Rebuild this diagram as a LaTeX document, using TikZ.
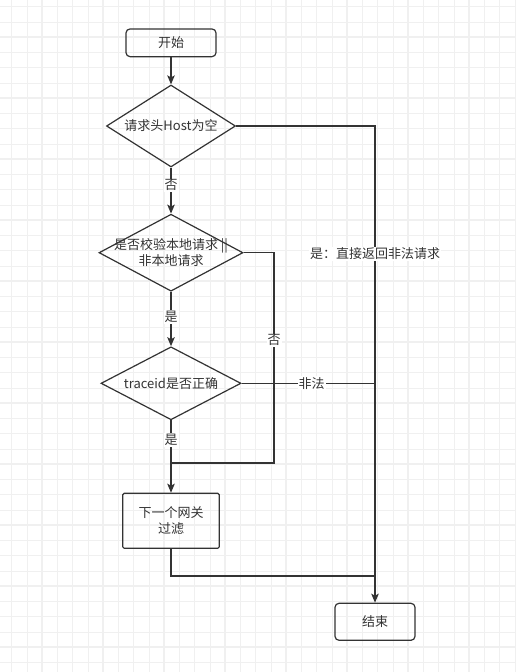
\documentclass[tikz,border=0pt]{standalone}
\usepackage{fontspec}
\setmainfont{Noto Sans CJK SC}
\usetikzlibrary{shapes.geometric,arrows.meta}
\definecolor{ink}{RGB}{51,51,51}
\definecolor{gridc}{RGB}{240,240,240}
\begin{document}
\begin{tikzpicture}[x=1pt,y=-1pt,
  every node/.style={font=\fontsize{13}{16}\selectfont, text=ink},
  term/.style={draw=ink, line width=1.2pt, rounded corners=4pt, inner sep=0pt},
  proc/.style={draw=ink, line width=1.2pt, rounded corners=1.5pt, inner sep=0pt, align=center},
  dia/.style={diamond, draw=ink, line width=1.2pt, inner sep=0pt},
  conn/.style={draw=ink, line width=1.2pt},
  arr/.style={conn, -{Stealth[length=9pt,width=7.5pt,inset=2pt]}},
  lbl/.style={fill=white, inner sep=1pt}
]
\useasboundingbox (0,0) rectangle (516,672);
\fill[white] (0,0) rectangle (516,672);
% grid
\foreach \i in {0,...,33} \draw[gridc, line width=0.8pt] ({11.7+15.25*\i},0) -- ({11.7+15.25*\i},672);
\foreach \i in {0,...,43} \draw[gridc, line width=0.8pt] (0,{6.7+15.25*\i}) -- (516,{6.7+15.25*\i});
\foreach \i in {0,...,7} \draw[gridc, line width=1.6pt] ({41.7+61*\i},0) -- ({41.7+61*\i},672);
\foreach \i in {0,...,10} \draw[gridc, line width=1.6pt] (0,{36.7+61*\i}) -- (516,{36.7+61*\i});

% nodes
\node[term, minimum width=90pt, minimum height=27.7pt] (start) at (171,42.8) {开始};
\node[dia, minimum width=129pt, minimum height=82pt,
      label={center:请求头Host为空}] (d1) at (171,126) {};
\node[dia, minimum width=144pt, minimum height=77pt,
      label={[align=center]center:是否校验本地请求 ||\\非本地请求}] (d2) at (171,252.7) {};
\node[dia, minimum width=140pt, minimum height=73pt,
      label={center:traceid是否正确}] (d3) at (171,383.3) {};
\node[proc, minimum width=96.6pt, minimum height=55pt] (next) at (171,520.8) {下一个网关\\过滤};
\node[term, minimum width=80pt, minimum height=37pt] (end) at (375,621.8) {结束};

\coordinate (m1) at (274,463);
\coordinate (m2) at (171,463);
\coordinate (m4) at (375,576);

% connectors
\draw[arr] (start) -- (d1);
\draw[arr] (d1.east) -| (end.north) node[lbl, pos=0.634] {是：直接返回非法请求};
\draw[arr] (d1.south) -- (d2.north) node[lbl, pos=0.385] {否};
\draw[conn] (d2.east) -| (m1) node[lbl, pos=0.708] {否} -- (m2);
\draw[arr] (d2.south) -- (d3.north) node[lbl, pos=0.46] {是};
\draw[conn] (d3.east) -- (d3.east -| end.north) node[lbl, pos=0.525] {非法};
\draw[arr] (d3.south) -- (next.north) node[lbl, pos=0.27] {是};
\draw[conn] (next.south) |- (m4);
\end{tikzpicture}
\end{document}
